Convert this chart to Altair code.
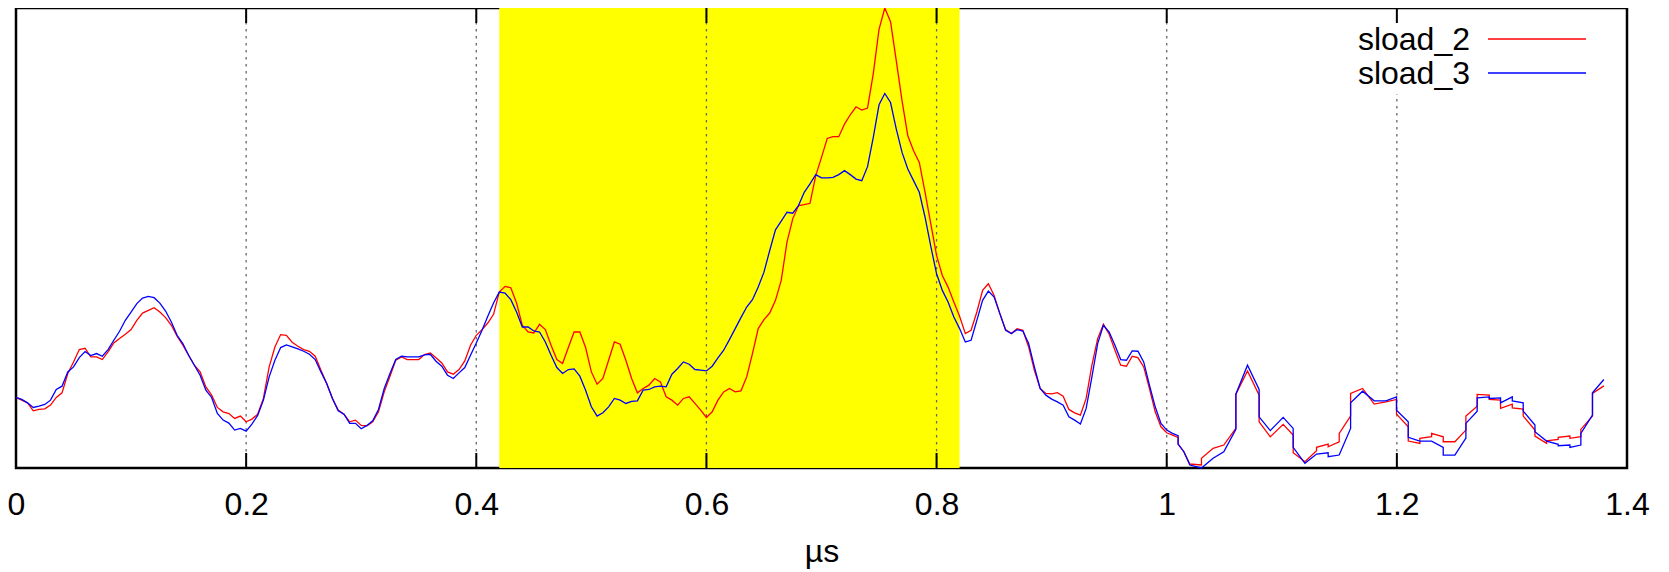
import altair as alt
import pandas as pd

# sample times (µs) of the regularly sampled part, 0 .. 1.005 every 0.005
t_uniform = [round(i * 0.005, 3) for i in range(202)]

sload_2_uniform = [
    70.7, 68, 65.3, 57.3, 58.7, 59.3, 63, 70.7, 75.3, 94.7, 106.3, 118.7, 120, 111.3, 111.3, 108.7, 116.3, 125.3, 129.7, 134,
    138.7, 148, 155.3, 158, 160.7, 156.3, 150.7, 143, 132, 123, 113, 103, 96.3, 81.3, 73, 60.7, 56.3, 54.5, 49.7, 52,
    46.3, 49, 54, 69.7, 101.3, 121.3, 133.7, 133, 126, 122, 118.7, 117, 112, 98, 84.7, 69.7, 58, 54, 46.3, 48,
    42.7, 42.3, 46.3, 56.3, 76.3, 92, 108, 111.3, 108.7, 108.7, 108.7, 113.7, 115.3, 110.5, 105.3, 96.3, 94, 98.7, 107.3, 123,
    133, 138.7, 145.3, 154, 176.3, 182, 180.7, 165.3, 143, 136.3, 135.3, 144, 138.7, 123, 108.7, 104.7, 120.7, 136.3, 136.3, 120.7,
    96.3, 84, 89.7, 108, 126.3, 124, 108, 89.7, 75.3, 79.7, 83, 89.7, 86.3, 71.3, 68, 63, 69.7, 71.3, 64.7, 58,
    50.7, 56.3, 68, 76.3, 79.7, 76.3, 77.3, 91.3, 114.7, 139.7, 148.7, 155.3, 168, 188, 226.3, 249.7, 263, 264, 265.3, 293,
    311.3, 330.3, 332, 332, 344.7, 354, 362, 358.7, 360.7, 395.3, 439.7, 461, 447.3, 408, 368, 333, 318, 306.3, 276.3, 244.7,
    213, 193, 181.3, 166.3, 152, 134.7, 138, 156.3, 178, 184.7, 173, 154.7, 138.7, 134.7, 139.7, 138, 121.3, 98, 79.7, 74.7,
    74.3, 75.5, 72, 58.7, 55.3, 53, 69.7, 103, 129.7, 144, 134, 118, 103, 102, 112, 110.7, 101.3, 79.7, 56.3, 41.3,
    35.3, 33,
]

sload_3_uniform = [
    70.7, 68.7, 65.3, 60.7, 62, 63.7, 68, 78.7, 82, 96.3, 101.3, 110.7, 116.7, 112.7, 114.7, 112, 118.7, 128, 137, 148,
    156.3, 164.7, 170.3, 172, 170.7, 165.3, 157.3, 146.3, 133, 124.7, 113, 103, 93, 78, 70.7, 54.7, 48, 45, 38, 39.7,
    37, 44, 52.7, 68, 91.3, 108, 120.7, 123.3, 121.3, 119.3, 117, 114, 108.7, 96.3, 84.7, 69.7, 57.3, 54, 44.7, 44.7,
    39.3, 42.7, 47.3, 58.7, 79.7, 94.7, 108.7, 112, 111.3, 111.3, 111.3, 113.3, 114, 107, 102, 93, 89.7, 95.3, 100.7, 113,
    125.3, 138, 152, 165.3, 176.3, 175.3, 168.7, 156.3, 141.3, 141.3, 137.3, 136.3, 126.3, 113, 100.7, 94.7, 98.7, 99.3, 92, 78,
    61.3, 52, 55.3, 61.3, 69.7, 68, 64.7, 66.7, 67.3, 78, 78.7, 81.3, 82, 81.3, 94, 99.7, 106.3, 104, 98.7, 98,
    97.3, 102, 110.3, 118, 128.7, 139.7, 150.7, 161.3, 168.7, 181.3, 196.3, 218, 238.7, 247.3, 256.3, 255.3, 263, 276.3, 284.7, 294,
    290.7, 290.7, 291.3, 294, 298, 294, 289.5, 288, 302, 331.3, 364, 375.3, 366.3, 339.7, 316.3, 299.7, 288, 276.3, 251.3, 222,
    194.7, 178, 166.3, 151.3, 139.7, 126.3, 128, 148, 168, 177.3, 171.3, 154.7, 138, 134.7, 138.7, 137.3, 124.7, 101.3, 79.7, 73,
    69, 66.3, 63, 51.3, 48, 44, 59.7, 91.3, 124.7, 143, 136.3, 123, 108.7, 108, 117.3, 117, 106.3, 83, 61.3, 44.7,
    38, 34.7,
]

# stepped tail (vertices as read)
sload_2_tail_t = [1.0099, 1.0099, 1.0149, 1.0201, 1.0302, 1.0302, 1.0403, 1.0496, 1.0601, 1.0601, 1.0702, 1.0803, 1.0803, 1.0900,
                  1.1012, 1.1099, 1.1099, 1.1201, 1.1302, 1.1302, 1.1403, 1.1403, 1.1499, 1.1499, 1.1598, 1.1598, 1.1702, 1.1803,
                  1.1905, 1.1997, 1.1997, 1.2099, 1.2099, 1.2200, 1.2200, 1.2302, 1.2302, 1.2403, 1.2403, 1.2504, 1.2600, 1.2600,
                  1.2698, 1.2698, 1.2803, 1.2803, 1.2901, 1.2901, 1.3003, 1.3003, 1.3098, 1.3098, 1.3200, 1.3200, 1.3301, 1.3301,
                  1.3402, 1.3402, 1.3504, 1.3504, 1.3599, 1.3599, 1.3700, 1.3700, 1.3799]
sload_2_tail_v = [30.7, 24, 16.3, 4, 3, 9.7, 19.7, 23, 39.7, 74, 97.3, 73, 46.3, 31.3,
                  43.7, 33, 15.3, 6.3, 17.3, 20.7, 24, 21.3, 26.3, 34.7, 52, 74.7, 79.7, 64,
                  66.3, 68.7, 54, 41.3, 27, 24.7, 29.7, 31.3, 34.7, 31.3, 26.3, 26.3, 38, 52,
                  62, 73.7, 73, 68.7, 68, 59.7, 64, 60.3, 59, 52, 38, 32, 24.7, 27.3,
                  28.7, 30.7, 32, 29.7, 31.3, 38.7, 52, 74.7, 82.3]

sload_3_tail_t = [1.0099, 1.0099, 1.0149, 1.0201, 1.0302, 1.0403, 1.0496, 1.0601, 1.0601, 1.0702, 1.0803, 1.0803, 1.0900,
                  1.1012, 1.1099, 1.1099, 1.1201, 1.1302, 1.1403, 1.1403, 1.1499, 1.1598, 1.1598, 1.1702, 1.1803, 1.1905,
                  1.1997, 1.1997, 1.2099, 1.2099, 1.2200, 1.2302, 1.2403, 1.2403, 1.2504, 1.2600, 1.2600, 1.2698, 1.2698,
                  1.2803, 1.2803, 1.2901, 1.2901, 1.3003, 1.3003, 1.3098, 1.3098, 1.3200, 1.3200, 1.3301, 1.3402, 1.3402,
                  1.3504, 1.3504, 1.3599, 1.3599, 1.3700, 1.3700, 1.3799]
sload_3_tail_v = [32.3, 24, 16.3, 3, 0, 9.7, 16.3, 38.7, 74, 103, 78.7, 51.3, 37.5,
                  50.7, 39.7, 20.7, 4.7, 14, 15.3, 11.3, 13, 39.7, 65.3, 77, 67.3, 67.3,
                  71.3, 58, 46.3, 30.7, 27, 27, 20.7, 13, 13, 30, 44.7, 57, 70.3,
                  71.3, 69.7, 70.3, 65.3, 71.3, 67.3, 65.3, 57, 43, 36.3, 27, 23.7, 22.3,
                  23, 20.7, 23, 34.7, 53, 75.3, 88.7]

series_names = ["sload_2", "sload_3"]
series_colors = ["#ff0000", "#0000ff"]

band_start = [0.42]
band_end = [0.82]
grid_values = [0.2, 0.4, 0.6, 0.8, 1.0, 1.2]
tick_values = [0, 0.2, 0.4, 0.6, 0.8, 1.0, 1.2, 1.4]

rows = []
for name, tu, vu, tt, vt in [
    ("sload_2", t_uniform, sload_2_uniform, sload_2_tail_t, sload_2_tail_v),
    ("sload_3", t_uniform, sload_3_uniform, sload_3_tail_t, sload_3_tail_v),
]:
    ts = list(tu) + list(tt)
    vs = list(vu) + list(vt)
    for i, (t, v) in enumerate(zip(ts, vs)):
        rows.append({"t": t, "v": v, "series": name, "i": i})
df = pd.DataFrame(rows)

W, H = 1611, 460
xscale = alt.Scale(domain=[0, 1.4], nice=False, zero=False)
yscale = alt.Scale(domain=[0, 461], nice=False, zero=False)

band = alt.Chart(pd.DataFrame({"s": band_start, "e": band_end})).mark_rect(
    color="#ffff00", opacity=1
).encode(
    x=alt.X("s:Q", scale=xscale, axis=alt.Axis(
        values=tick_values, format="~g", title="µs", labelFontSize=32, labelFont="Liberation Sans",
        labelColor="black", labelPadding=21, ticks=False, domain=False, grid=False,
        titleFontSize=32, titleFont="Liberation Sans", titleFontWeight="normal", titleColor="black",
        titlePadding=16, labelFlush=False)),
    x2="e:Q",
)

grid = alt.Chart(pd.DataFrame({"g": grid_values})).mark_rule(
    color="#666666", strokeWidth=1.3, strokeDash=[2.5, 4.5]
).encode(x=alt.X("g:Q", scale=xscale))

legend_box = alt.Chart(pd.DataFrame({"a": [0]})).mark_rect(color="white").encode(
    x=alt.value(1329), x2=alt.value(1584), y=alt.value(2), y2=alt.value(86)
)

lines = alt.Chart(df).mark_line(strokeWidth=1.3).encode(
    x=alt.X("t:Q", scale=xscale),
    y=alt.Y("v:Q", scale=yscale, axis=None),
    color=alt.Color("series:N", scale=alt.Scale(domain=series_names, range=series_colors), legend=None),
    order="i:Q",
)

ticks_df = pd.DataFrame({"k": tick_values})
ticks_bottom = alt.Chart(ticks_df).mark_rule(color="black", strokeWidth=2).encode(
    x=alt.X("k:Q", scale=xscale), y=alt.value(H - 15), y2=alt.value(H)
)
ticks_top = alt.Chart(ticks_df).mark_rule(color="black", strokeWidth=2).encode(
    x=alt.X("k:Q", scale=xscale), y=alt.value(0), y2=alt.value(15)
)

leg_df = pd.DataFrame({"name": series_names, "color": series_colors})
legend_layers = []
for k, (name, col) in enumerate(zip(series_names, series_colors)):
    yy = 32 + 34 * k
    legend_layers.append(
        alt.Chart(leg_df).transform_filter(alt.datum.name == name).mark_text(
            align="right", baseline="middle", fontSize=32, font="Liberation Sans", color="black"
        ).encode(text="name:N", x=alt.value(1454), y=alt.value(yy))
    )
    legend_layers.append(
        alt.Chart(leg_df).transform_filter(alt.datum.name == name).mark_rule(
            color=col, strokeWidth=1.3
        ).encode(x=alt.value(1472), x2=alt.value(1570), y=alt.value(yy - 1))
    )

chart = alt.layer(
    band, grid, legend_box, lines, ticks_bottom, ticks_top, *legend_layers
).properties(
    width=W, height=H,
    background="white",
    autosize=alt.AutoSizeParams(type="none"),
    padding={"left": 8, "top": 0, "right": 30, "bottom": 110},
).configure_view(stroke="black", strokeWidth=2.5)

chart.save("out.html", embed_options={"renderer": "svg", "actions": False})
